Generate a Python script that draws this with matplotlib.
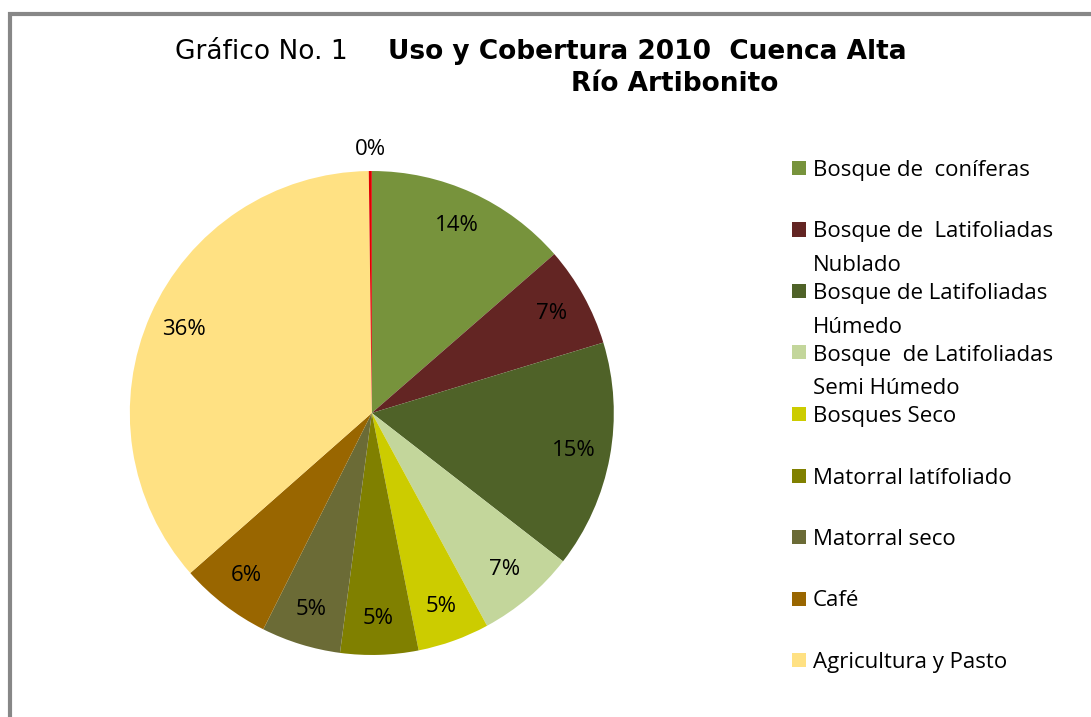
import matplotlib.pyplot as plt
import matplotlib.patches as mpatches
import numpy as np

# Uso y cobertura 2010, cuenca alta del rio Artibonito (% del area)
categorias = ["Bosque de  coníferas", "Bosque de  Latifoliadas\nNublado",
              "Bosque de Latifoliadas\nHúmedo", "Bosque  de Latifoliadas\nSemi Húmedo",
              "Bosques Seco", "Matorral latífoliado", "Matorral seco", "Café",
              "Agricultura y Pasto", "Otros"]
valores = [13.6, 6.7, 15.2, 6.6, 4.8, 5.2, 5.3, 6.1, 36.3, 0.2]
colores = ["#77933C", "#632523", "#4F6228", "#C3D69B", "#CCCC00",
           "#808000", "#6B6B36", "#996600", "#FFE183", "#E00000"]
en_leyenda = 9  # la ultima categoria no aparece en la leyenda

fuente = "Open Sans"

fig = plt.figure(figsize=(10.91, 7.17), dpi=100)
fig.patch.set_facecolor("white")

# marco gris del grafico
fig.patches.append(mpatches.Rectangle((10 / 1091, -0.1), 1.2, 1.1 - 14 / 717,
                                      transform=fig.transFigure, fill=False,
                                      edgecolor="#878787", linewidth=3))

ax = fig.add_axes([0.119, 0.0865, 0.4436, 0.675])
wedges, textos, autotextos = ax.pie(valores, colors=colores, startangle=90,
                                    counterclock=False, autopct="%.0f%%",
                                    pctdistance=0.85,
                                    wedgeprops=dict(linewidth=0),
                                    textprops=dict(family=fuente, fontsize=16))
ax.set_xlim(-1, 1)
ax.set_ylim(-1, 1)
ax.set_aspect("equal")

# la etiqueta de la porcion minima va fuera del circulo
w = wedges[-1]
ang = np.deg2rad((w.theta1 + w.theta2) / 2)
autotextos[-1].set_position((1.09 * np.cos(ang), 1.09 * np.sin(ang)))

# titulo
fig.text(175 / 1091, 1 - 52 / 717, "Gráfico No. 1", fontsize=19,
         family="DejaVu Sans", va="center", ha="left")
fig.text(388 / 1091, 1 - 52 / 717, "Uso y Cobertura 2010  Cuenca Alta",
         fontsize=19, family="DejaVu Sans", weight="bold", va="center", ha="left")
fig.text(571 / 1091, 1 - 84 / 717, "Río Artibonito",
         fontsize=19, family="DejaVu Sans", weight="bold", va="center", ha="left")

# leyenda manual
for i in range(en_leyenda):
    y = 168 + 61.5 * i
    fig.patches.append(mpatches.Rectangle((792 / 1091, 1 - (y + 7) / 717), 14 / 1091, 14 / 717,
                                          transform=fig.transFigure,
                                          facecolor=colores[i], edgecolor="none"))
    for k, linea in enumerate(categorias[i].split("\n")):
        fig.text(813 / 1091, 1 - (y + 34 * k) / 717, linea, fontsize=16,
                 family=fuente, va="center_baseline", ha="left")

fig.savefig("out.png", dpi=100)
